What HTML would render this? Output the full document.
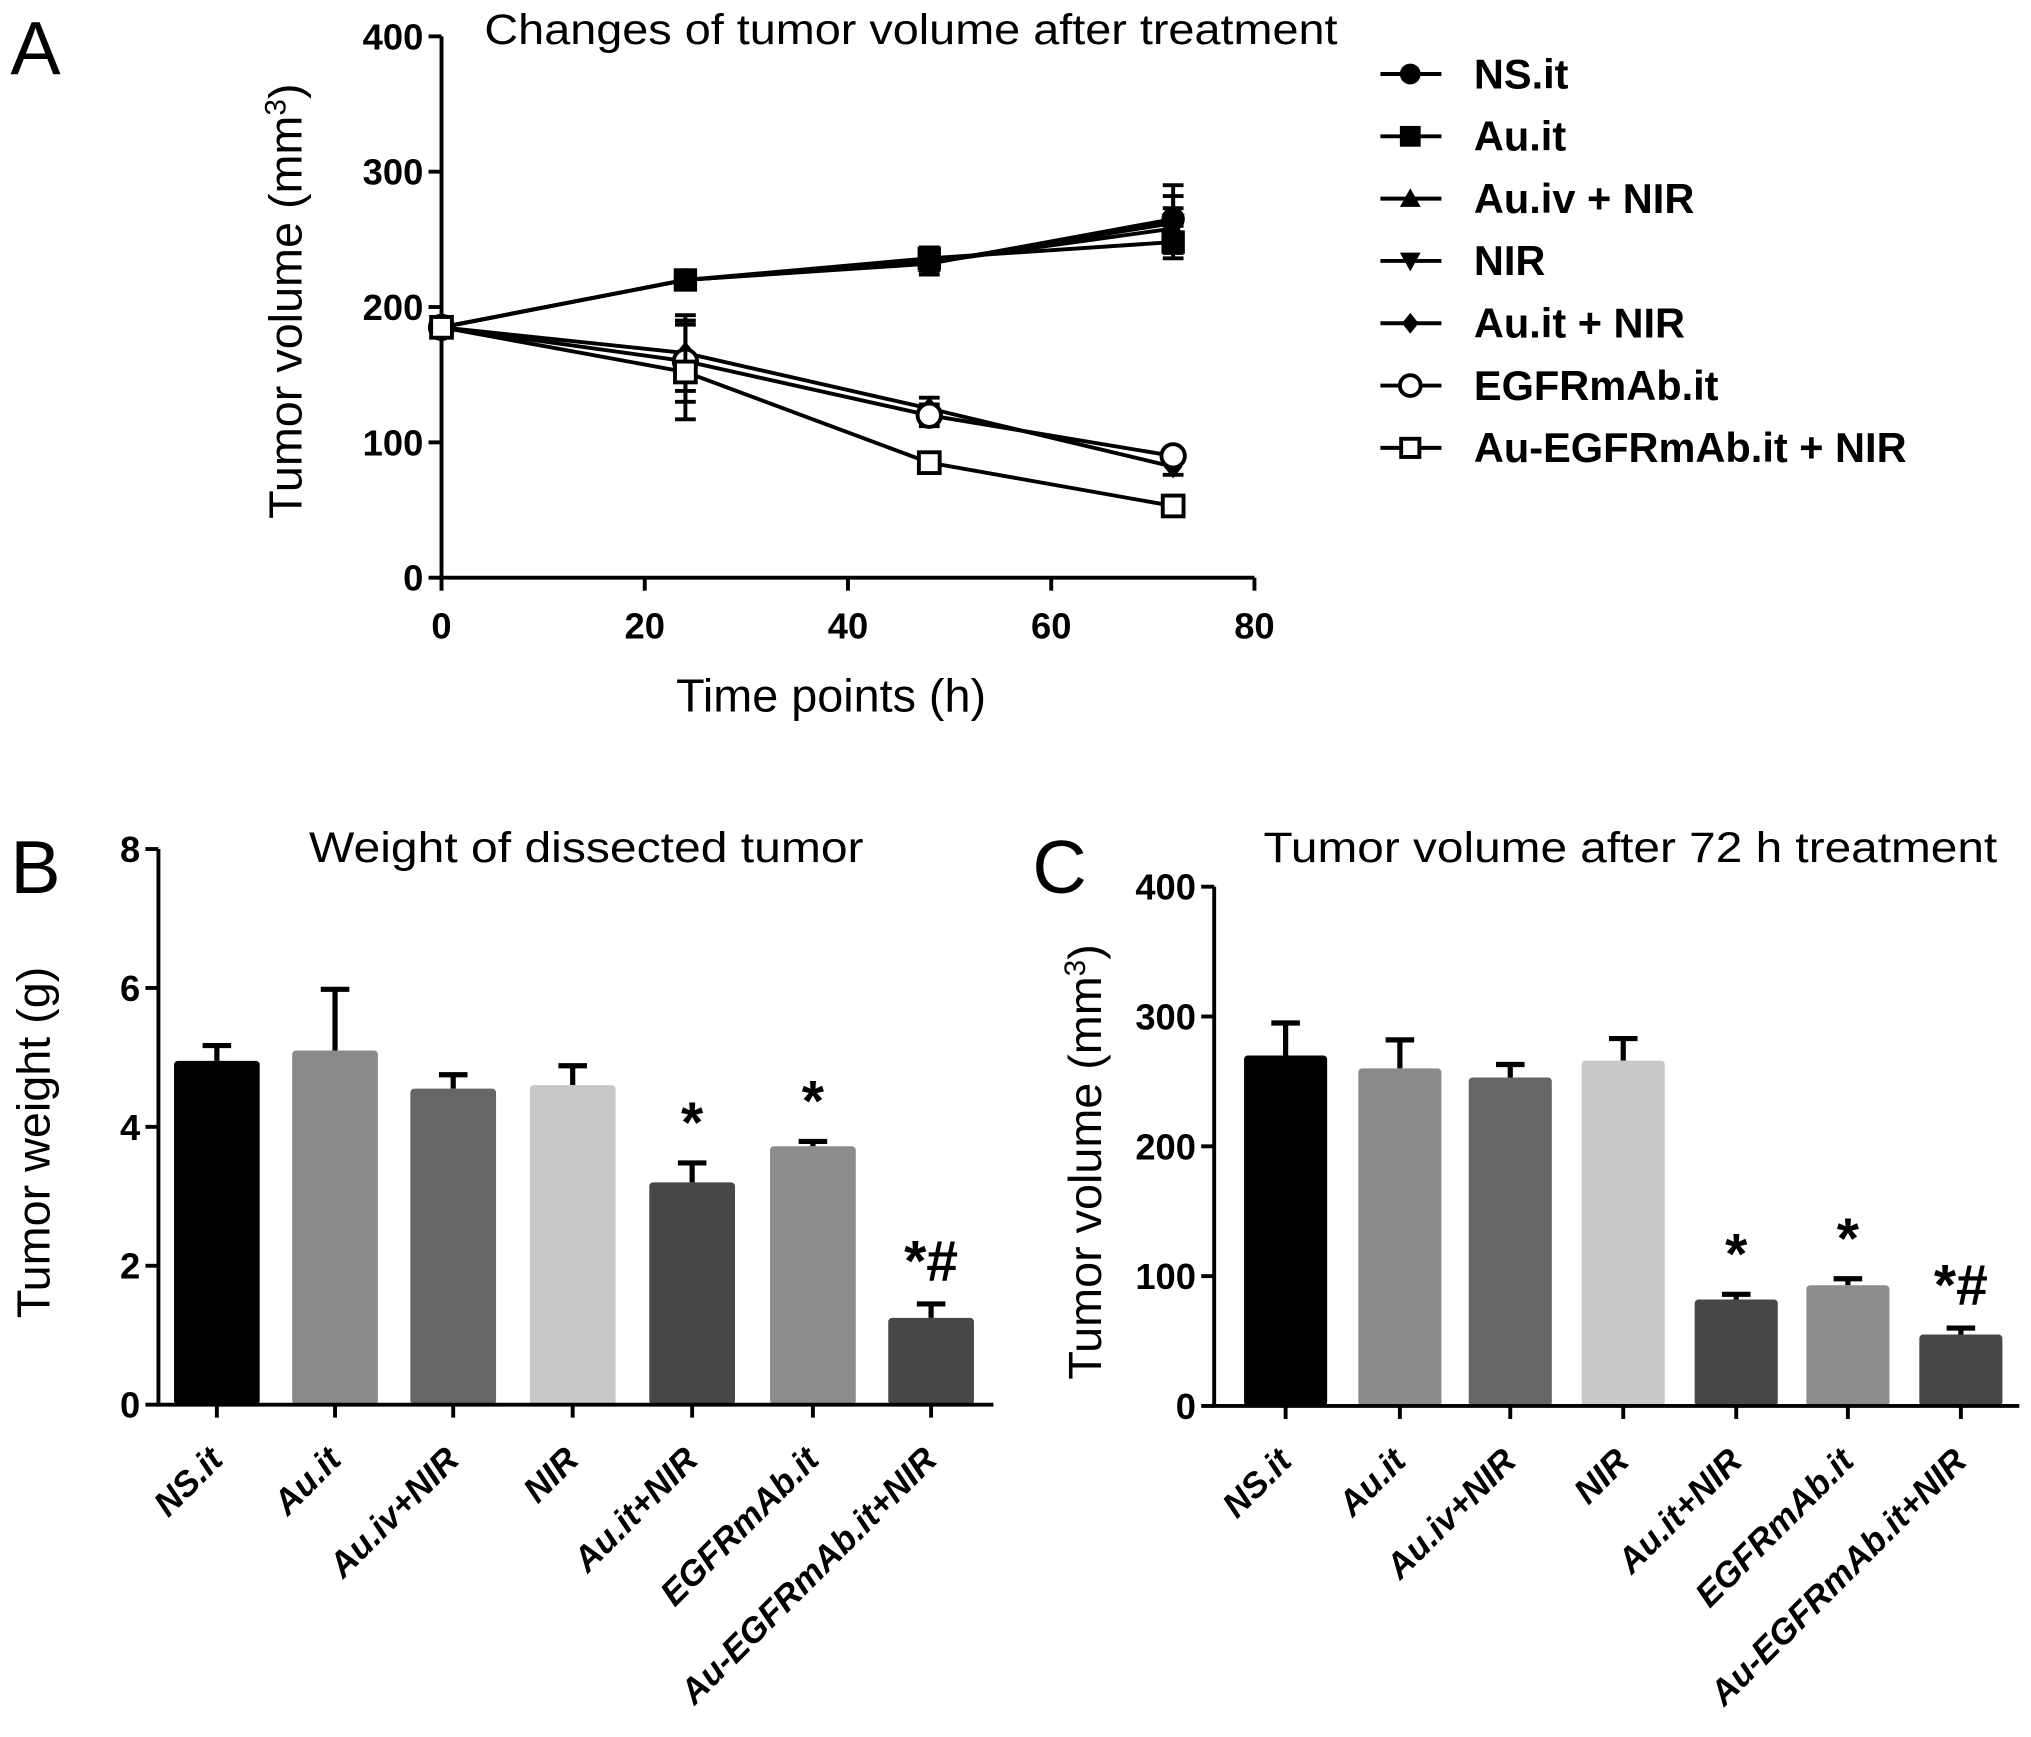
<!DOCTYPE html>
<html><head><meta charset="utf-8"><style>
html,body{margin:0;padding:0;background:#fff}
svg{display:block}
text{font-family:"Liberation Sans",Arial,sans-serif}
</style></head><body>
<svg id="fig" width="2031" height="1737" viewBox="0 0 1564 1338" preserveAspectRatio="none" xmlns="http://www.w3.org/2000/svg">
<rect width="1564" height="1338" fill="#fff"/>
<g id="pa"></g>
<g id="pb"></g>
<g id="pc"></g>
</svg>
<script>
// Panel A data
const timePoints = [0, 24, 48, 72];
const seriesNames = ["NS.it","Au.it","Au.iv + NIR","NIR","Au.it + NIR","EGFRmAb.it","Au-EGFRmAb.it + NIR"];
const nsIt = [185, 220, 232, 265];
const auIt = [185, 220, 236, 248];
const auIvNir = [185, 220, 233, 258];
const nirOnly = [185, 220, 233, 262];
const auItNir = [185, 166, 125, 82];
const egfrIt = [185, 160, 120, 90];
const auEgfrNir = [185, 152, 85, 53];
const errA = [[6,5,8,25],[6,5,8,12],[6,5,6,15],[6,5,6,20],[6,28,8,6],[6,30,8,5],[6,35,6,5]];
const markers = ["circle","square","triangle","tridown","diamond","ocircle","osquare"];
const xTicksA = [0,20,40,60,80];
const yTicksA = [0,100,200,300,400];
// Panel B data
const barCats = ["NS.it","Au.it","Au.iv+NIR","NIR","Au.it+NIR","EGFRmAb.it","Au-EGFRmAb.it+NIR"];
const weightVals = [4.95, 5.1, 4.55, 4.6, 3.2, 3.72, 1.25];
const weightErr = [0.22, 0.88, 0.2, 0.28, 0.28, 0.07, 0.2];
const yTicksB = [0,2,4,6,8];
// Panel C data
const volVals = [270, 260, 253, 266, 82, 93, 55];
const volErr = [25, 22, 10, 17, 4, 5, 5];
const yTicksC = [0,100,200,300,400];
const sigMarks = ["","","","","*","*","*#"];
const barColors = ["#000","#8a8a8a","#666","#c8c8c8","#474747","#8c8c8c","#474747"];

const NS="http://www.w3.org/2000/svg";
function mk(p,tag,attrs,txt){const e=document.createElementNS(NS,tag);for(const k in attrs)e.setAttribute(k,attrs[k]);if(txt!==undefined)e.textContent=txt;p.appendChild(e);return e;}

// ---------- Panel A ----------
const pa=document.getElementById('pa');
const ax=v=>340+v*(626/80), ay=v=>445-v*(417/400);
let t=mk(pa,'text',{x:8,y:57,'font-size':58},'A');


t=mk(pa,'text',{x:373,y:34,'font-size':33,textLength:657,lengthAdjust:'spacingAndGlyphs'},'Changes of tumor volume after treatment');


let l=mk(pa,'path',{d:`M${ax(0)} ${ay(400)}V${ay(0)}H${ax(80)}`,fill:'none',stroke:'#000','stroke-width':3});


yTicksA.forEach(v=>{mk(pa,'line',{x1:ax(0)-10,x2:ax(0),y1:ay(v),y2:ay(v),stroke:'#000','stroke-width':3});
 t=mk(pa,'text',{x:ax(0)-14,y:ay(v)+10,'font-size':28,'font-weight':'bold','text-anchor':'end'},v);
 
 });
xTicksA.forEach(v=>{mk(pa,'line',{x1:ax(v),x2:ax(v),y1:ay(0),y2:ay(0)+10,stroke:'#000','stroke-width':3});
 t=mk(pa,'text',{x:ax(v),y:ay(0)+47,'font-size':28,'font-weight':'bold','text-anchor':'middle'},v);
 
 });
t=mk(pa,'text',{x:640,y:548,'font-size':36,'text-anchor':'middle'},'Time points (h)');


t=mk(pa,'text',{x:0,y:0,'font-size':36,'text-anchor':'middle',transform:'translate(232,232) rotate(-90)'});


t.innerHTML='Tumor volume (mm<tspan baseline-shift="super" font-size="23">3</tspan>)';
function marker(p,type,x,y,s){
 const a={stroke:'#000','stroke-width':3};
 if(type==='circle')return mk(p,'circle',{cx:x,cy:y,r:s,fill:'#000'});
 if(type==='ocircle')return mk(p,'circle',{cx:x,cy:y,r:s,fill:'#fff',...a});
 if(type==='square')return mk(p,'rect',{x:x-s,y:y-s,width:2*s,height:2*s,fill:'#000'});
 if(type==='osquare')return mk(p,'rect',{x:x-s+1,y:y-s+1,width:2*s-2,height:2*s-2,fill:'#fff',...a});
 if(type==='triangle')return mk(p,'polygon',{points:`${x},${y-s} ${x+s},${y+s*0.8} ${x-s},${y+s*0.8}`,fill:'#000'});
 if(type==='tridown')return mk(p,'polygon',{points:`${x},${y+s} ${x+s},${y-s*0.8} ${x-s},${y-s*0.8}`,fill:'#000'});
 return mk(p,'polygon',{points:`${x},${y-s} ${x+s*0.8},${y} ${x},${y+s} ${x-s*0.8},${y}`,fill:'#000'});
}
const allSeries=[nsIt,auIt,auIvNir,nirOnly,auItNir,egfrIt,auEgfrNir];
allSeries.forEach((vals,si)=>{
 const g=mk(pa,'g',{});
 
 
 const line=mk(g,'polyline',{points:vals.map((v,i)=>ax(timePoints[i])+','+ay(v)).join(' '),fill:'none',stroke:'#000','stroke-width':3});
 
 
 vals.forEach((v,i)=>{const x=ax(timePoints[i]),e=errA[si][i];
  mk(g,'path',{d:`M${x} ${ay(v+e)}V${ay(v-e)}M${x-8} ${ay(v+e)}H${x+8}M${x-8} ${ay(v-e)}H${x+8}`,stroke:'#000','stroke-width':3,fill:'none'});
  const m=marker(g,markers[si],x,ay(v),9);
  
  });
 const ly=57+si*48;
 const lg=mk(pa,'g',{});
 
 
 mk(lg,'line',{x1:1063,x2:1110,y1:ly,y2:ly,stroke:'#000','stroke-width':3});
 marker(lg,markers[si],1086,ly,8);
 mk(lg,'text',{x:1135,y:ly+11,'font-size':32,'font-weight':'bold'},seriesNames[si]);
});

// ---------- bar panels ----------
function barPanel(p,opts){
 const {x0,x1,yb,yt,max,ticks,vals,errs,centers,bw,title,tx,tw,letter,lx,ytitle,ytx}=opts;
 const sy=v=>yb-v*(yb-yt)/max;
 t=mk(p,'text',{x:lx,y:688,'font-size':58},letter);
 
 
 t=mk(p,'text',{x:tx,y:664,'font-size':33,textLength:tw,lengthAdjust:'spacingAndGlyphs'},title);
 
 
 vals.forEach((v,i)=>{const c=centers[i],e=errs[i];
  const eb=mk(p,'path',{d:`M${c} ${sy(v)}V${sy(v+e)}M${c-11} ${sy(v+e)}H${c+11}`,stroke:'#000','stroke-width':4,fill:'none'});
  
  
  const r=mk(p,'rect',{x:c-bw/2,y:sy(v),width:bw,height:sy(0)-sy(v),fill:barColors[i],rx:3});
  
  
  if(sigMarks[i]){const s=mk(p,'text',{x:c,y:sy(v+e)-(sigMarks[i].length>1?18:16),'font-size':44,'font-weight':'bold','text-anchor':'middle'},sigMarks[i]);
   
   }
  mk(p,'line',{x1:c,x2:c,y1:yb,y2:yb+10,stroke:'#000','stroke-width':3});
  const lb=mk(p,'text',{x:0,y:0,'font-size':27,'font-weight':'bold','font-style':'italic','text-anchor':'end',transform:`translate(${c+6},${yb+44}) rotate(-45)`},barCats[i]);
  
  
 });
 l=mk(p,'path',{d:`M${x0} ${yt}V${yb}H${x1}`,fill:'none',stroke:'#000','stroke-width':3});
 
 
 ticks.forEach(v=>{mk(p,'line',{x1:x0-10,x2:x0,y1:sy(v),y2:sy(v),stroke:'#000','stroke-width':3});
  const tl=mk(p,'text',{x:x0-14,y:sy(v)+10,'font-size':28,'font-weight':'bold','text-anchor':'end'},v);
  
  });
 const yt2=mk(p,'text',{x:0,y:0,'font-size':36,'text-anchor':'middle',transform:`translate(${ytx},${(yb+yt)/2+12}) rotate(-90)`});
 
 
 yt2.innerHTML=ytitle;
}
barPanel(document.getElementById('pb'),{x0:122,x1:765,yb:1082,yt:654,max:8,ticks:yTicksB,vals:weightVals,errs:weightErr,
 centers:[167,258,349,441,533,626,717],bw:66,title:'Weight of dissected tumor',tx:238,tw:427,letter:'B',lx:8,ytitle:'Tumor weight (g)',ytx:38});
barPanel(document.getElementById('pc'),{x0:935,x1:1555,yb:1083,yt:683,max:400,ticks:yTicksC,vals:volVals,errs:volErr,
 centers:[990,1078,1163,1250,1337,1423,1510],bw:64,title:'Tumor volume after 72 h treatment',tx:973,tw:565,letter:'C',lx:795,
 ytitle:'Tumor volume (mm<tspan baseline-shift="super" font-size="23">3</tspan>)',ytx:848});
</script>
</body></html>
